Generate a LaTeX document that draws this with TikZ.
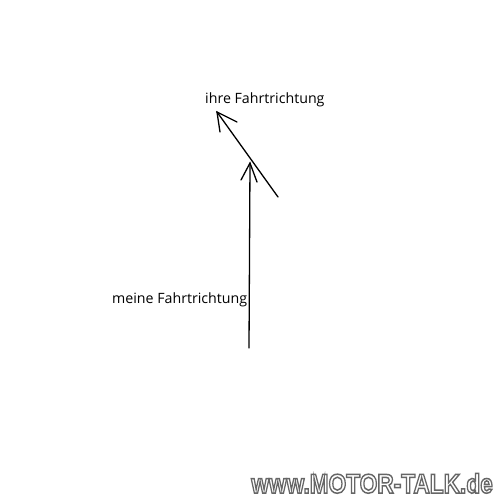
\documentclass[tikz,border=0pt]{standalone}
\usepackage{fontspec}
\setmainfont{Open Sans}
\newfontfamily\markfont{Liberation Sans}

\newcommand{\umriss}[1]{\special{pdf:literal 0.4 G 1.5 w 2 Tr}#1\special{pdf:literal 0 Tr 0 G}}

\tikzset{
  arrowline/.style={line width=1.3pt,black,line cap=round},
  richtung/.style={font=\fontsize{14.2}{16}\selectfont,inner sep=0pt},
  marke/.style={font=\markfont\bfseries\fontsize{27}{30}\selectfont,inner sep=0pt,text=white}
}

\begin{document}
\begin{tikzpicture}[x=1pt,y=-1pt]
    \useasboundingbox[fill=white] (0,0) rectangle (500,500);

    % meine Fahrtrichtung
    \coordinate (meinStart) at (249,348);
    \coordinate (meinSpitze) at (250,163);
    \coordinate (meinL) at (241,180);
    \coordinate (meinR) at (257,182);
    \draw[arrowline] (meinStart) -- (meinSpitze);
    \draw[arrowline] (meinL) -- (meinSpitze) -- (meinR);

    % ihre Fahrtrichtung
    \coordinate (ihrStart) at (278,197);
    \coordinate (ihrSpitze) at (217,112);
    \coordinate (ihrL) at (220,132);
    \coordinate (ihrR) at (237,122);
    \draw[arrowline] (ihrStart) -- (ihrSpitze);
    \draw[arrowline] (ihrL) -- (ihrSpitze) -- (ihrR);

    % Texte
    \node[richtung,anchor=base west] (ihre) at (205,104) {ihre Fahrtrichtung};
    \node[richtung,anchor=base west] (meine) at (112,303) {meine Fahrtrichtung};

    % Wasserzeichen
    \node[marke,anchor=base east] (motortalk) at (493,493) {\scalebox{0.84}[1]{\umriss{www.MOTOR-TALK.de}}};
\end{tikzpicture}
\end{document}
